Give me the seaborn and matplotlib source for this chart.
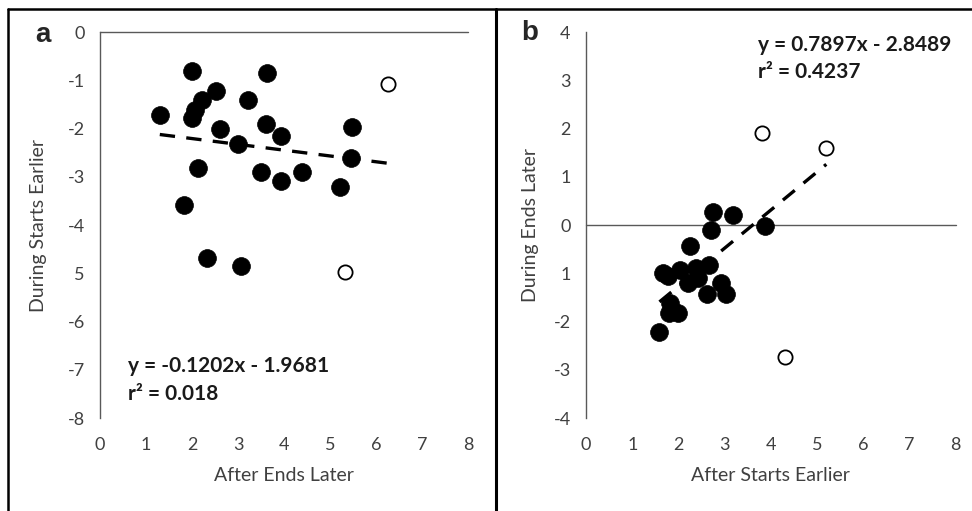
import numpy as np
import pandas as pd
import matplotlib
matplotlib.use("Agg")
import matplotlib.pyplot as plt
from matplotlib.lines import Line2D
import seaborn as sns

# ---- data ----
a_filled_x = [1.30, 2.01, 3.62, 2.52, 2.21, 2.07, 2.01, 3.21, 2.61, 3.61, 3.93,
              3.01, 5.47, 5.45, 2.12, 3.51, 3.93, 4.40, 5.22, 1.83, 2.33, 3.06]
a_filled_y = [-1.72, -0.80, -0.86, -1.22, -1.41, -1.62, -1.79, -1.40, -2.01, -1.91, -2.16,
              -2.33, -1.96, -2.62, -2.81, -2.91, -3.09, -2.91, -3.21, -3.59, -4.68, -4.84]
a_open_x = [6.25, 5.33]
a_open_y = [-1.08, -4.97]
a_slope, a_intercept = -0.1202, -1.9681
a_fit_range = [1.30, 6.25]
a_eq = ["y = -0.1202x - 1.9681", "r² = 0.018"]

b_filled_x = [2.74, 3.19, 2.70, 3.87, 2.24, 2.67, 1.66, 1.78, 2.03, 2.38,
              2.43, 2.21, 2.61, 2.92, 3.02, 1.82, 1.80, 2.00, 1.59]
b_filled_y = [0.26, 0.21, -0.10, -0.02, -0.44, -0.83, -0.99, -1.06, -0.93, -0.90,
              -1.10, -1.21, -1.42, -1.21, -1.43, -1.61, -1.82, -1.82, -2.21]
b_open_x = [3.80, 5.19, 4.31]
b_open_y = [1.91, 1.59, -2.73]
b_slope, b_intercept = 0.7897, -2.8489
b_fit_range = [1.59, 5.20]
b_eq = ["y = 0.7897x - 2.8489", "r² = 0.4237"]

x_ticks = [0, 1, 2, 3, 4, 5, 6, 7, 8]
a_y_ticks = [0, -1, -2, -3, -4, -5, -6, -7, -8]
a_y_ticklabels = ["0", "-1", "-2", "-3", "-4", "5", "-6", "-7", "-8"]
b_y_ticks = [4, 3, 2, 1, 0, -1, -2, -3, -4]
b_y_ticklabels = ["4", "3", "2", "1", "0", "1", "-2", "-3", "-4"]

sns.set_theme(style="white")
plt.rcParams['font.family'] = ['Lato', 'DejaVu Sans']

fig = plt.figure(figsize=(9.72, 5.11), dpi=100)
ax_a = fig.add_axes([100/972, 1-418/511, 368/972, 386/511])
ax_b = fig.add_axes([586/972, 1-418/511, 369.7/972, 386/511])

tick_color = "#404040"
axis_color = "#595959"


def draw_panel(ax, fx, fy, ox, oy, slope, intercept, rng, yticks, yticklabels,
               ylim, xlabel, ylabel, eq, eq_pos, ylabel_x):
    df_f = pd.DataFrame({"x": fx, "y": fy})
    df_o = pd.DataFrame({"x": ox, "y": oy})
    xs = np.linspace(rng[0], rng[1], 50)
    df_l = pd.DataFrame({"x": xs, "y": slope * xs + intercept})
    sns.lineplot(data=df_l, x="x", y="y", ax=ax, color="black", lw=2.4,
                 dashes=False, zorder=2)
    ax.lines[-1].set_dashes([4.6, 3.4])
    sns.scatterplot(data=df_f, x="x", y="y", ax=ax, s=165, color="black",
                    edgecolor="black", linewidth=0.5, zorder=3)
    sns.scatterplot(data=df_o, x="x", y="y", ax=ax, s=105, facecolor="white",
                    edgecolor="black", linewidth=1.3, zorder=3)
    ax.axhline(0, color=axis_color, lw=1.0, zorder=1, clip_on=False)
    ax.set_xlim(0, 8)
    ax.set_ylim(*ylim)
    ax.set_xticks(x_ticks)
    ax.set_xticklabels([str(t) for t in x_ticks])
    ax.set_yticks(yticks)
    ax.set_yticklabels(yticklabels)
    ax.tick_params(axis="both", length=0, labelsize=13, colors=tick_color)
    ax.tick_params(axis="x", pad=14)
    ax.tick_params(axis="y", pad=11)
    for s in ["top", "right", "bottom"]:
        ax.spines[s].set_visible(False)
    ax.spines["left"].set_color(axis_color)
    ax.spines["left"].set_linewidth(1.0)
    ax.set_xlabel(xlabel, fontsize=14, color=tick_color)
    ax.set_ylabel(ylabel, fontsize=14, color=tick_color)
    ax.xaxis.set_label_coords(0.5, -0.127)
    ax.yaxis.set_label_coords(ylabel_x, 0.5)
    ax.set_facecolor("none")
    ax.text(eq_pos[0], eq_pos[1], eq[0] + "\n" + eq[1], transform=ax.transAxes,
            fontsize=15, fontweight="bold", color="#1a1a1a", ha="left",
            va="center", linespacing=1.45)


draw_panel(ax_a, a_filled_x, a_filled_y, a_open_x, a_open_y, a_slope, a_intercept,
           a_fit_range, a_y_ticks, a_y_ticklabels, (-8, 0), "After Ends Later",
           "During Starts Earlier", a_eq, (28/368, (418-380)/386), -0.144)
draw_panel(ax_b, b_filled_x, b_filled_y, b_open_x, b_open_y, b_slope, b_intercept,
           b_fit_range, b_y_ticks, b_y_ticklabels, (-4, 4), "After Starts Earlier",
           "During Ends Later", b_eq, ((758-586)/369.7, (418-58.5)/386), -0.127)

# panel letters
fig.text(43/972, 1-35/511, "a", fontsize=20, fontweight="bold",
         family="Liberation Sans", ha="center", va="center")
fig.text(530/972, 1-33/511, "b", fontsize=20, fontweight="bold",
         family="Liberation Sans", ha="center", va="center")

# panel frames
fig.add_artist(Line2D([8/972, 1], [1-9/511, 1-9/511], color="black", lw=1.8,
                      transform=fig.transFigure))
fig.add_artist(Line2D([8/972, 8/972], [0, 1-9/511], color="black", lw=1.8,
                      transform=fig.transFigure))
fig.add_artist(Line2D([496/972, 496/972], [0, 1-9/511], color="black", lw=2.2,
                      transform=fig.transFigure))

fig.savefig("out.png", dpi=100, facecolor="white")
